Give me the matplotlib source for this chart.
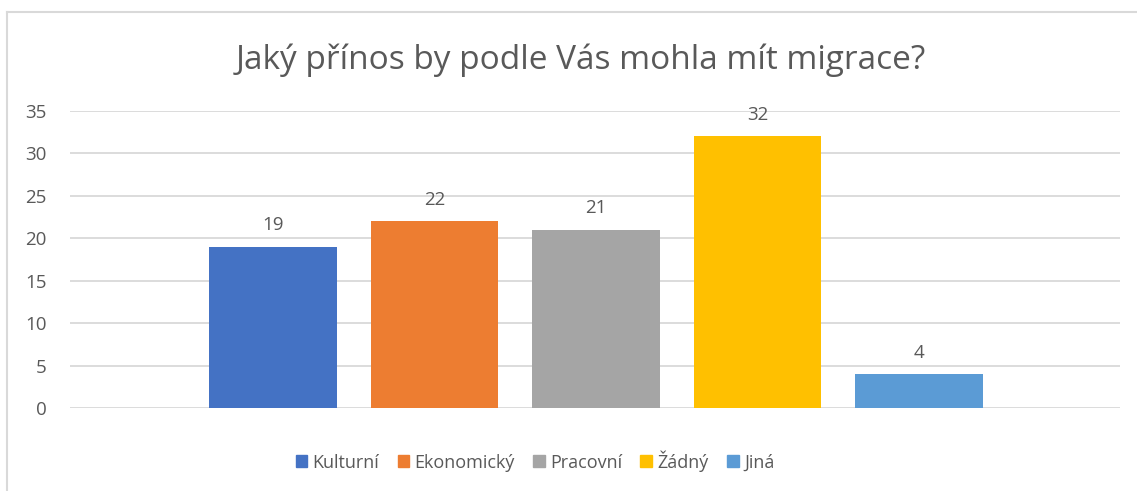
import matplotlib.pyplot as plt
from matplotlib.patches import Patch
from matplotlib.lines import Line2D

plt.rcParams['font.family'] = ['Open Sans', 'DejaVu Sans']

# data
kategorie = ['Kulturní', 'Ekonomický', 'Pracovní', 'Žádný', 'Jiná']
hodnoty = [19, 22, 21, 32, 4]
barvy = ['#4472C4', '#ED7D31', '#A5A5A5', '#FFC000', '#5B9BD5']
y_ticks = [0, 5, 10, 15, 20, 25, 30, 35]
titulek = 'Jaký přínos by podle Vás mohla mít migrace?'

text_col = '#595959'
W, H = 1137, 491

fig = plt.figure(figsize=(W / 100, H / 100), dpi=100, facecolor='white')
ax = fig.add_axes([70 / W, 1 - 408 / H, (1120 - 70) / W, (408 - 111) / H])

pozice = list(range(len(kategorie)))
ax.bar(pozice, hodnoty, width=0.79, color=barvy, zorder=3)

# popisky hodnot nad sloupci
for x, v in zip(pozice, hodnoty):
    ax.annotate(str(v), (x, v), xytext=(0, 9), textcoords='offset points',
                ha='center', va='bottom', fontsize=13.5, color=text_col)

ax.set_xlim(-1.257, 5.245)
ax.set_ylim(0, 35)
ax.set_yticks(y_ticks)
ax.set_xticks([])
ax.tick_params(axis='y', length=0, pad=17, labelsize=13.5, labelcolor=text_col)
ax.grid(axis='y', color='#D9D9D9', linewidth=1.3, zorder=0)
for s in ax.spines.values():
    s.set_visible(False)

fig.text(581 / W, 1 - 60 / H, titulek, ha='center', va='center',
         fontsize=24, color=text_col)

# legenda dole
handles = [Patch(color=c) for c in barvy]
fig.legend(handles, kategorie, loc='center', bbox_to_anchor=(535 / W, 1 - 461 / H),
           ncol=5, frameon=False, fontsize=13, labelcolor=text_col,
           handlelength=0.65, handleheight=0.65, handletextpad=0.3, columnspacing=1.0)

# okraj grafu
fig.add_artist(Line2D([7 / W, 7 / W], [0, 1 - 12 / H], color='#D9D9D9', linewidth=1.5,
                      transform=fig.transFigure))
fig.add_artist(Line2D([7 / W, 1], [1 - 12 / H, 1 - 12 / H], color='#D9D9D9', linewidth=1.5,
                      transform=fig.transFigure))

fig.savefig('out.png', dpi=100, facecolor='white')
